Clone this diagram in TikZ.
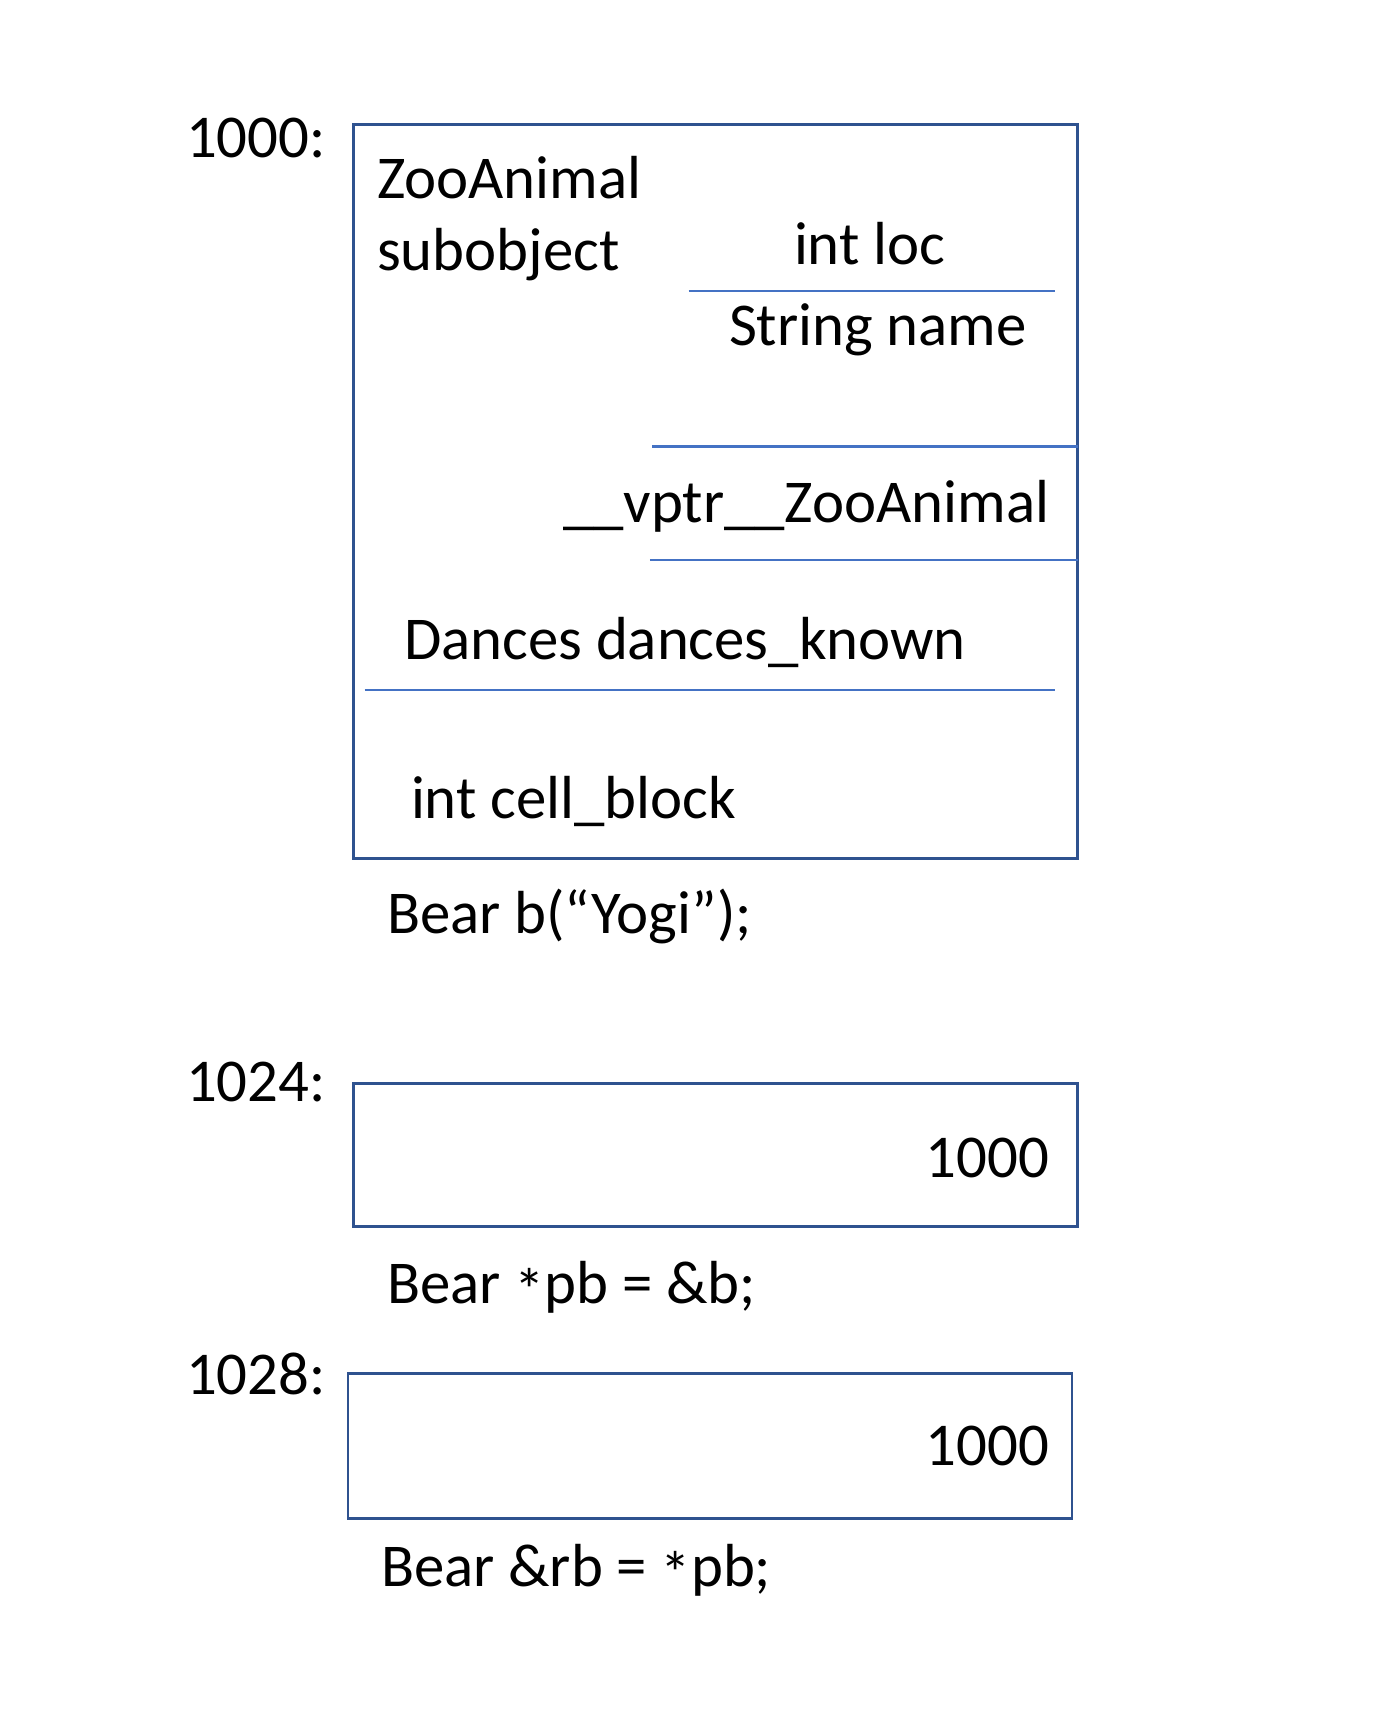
\documentclass[tikz,border=0pt]{standalone}
\usepackage{fontspec}
\setmainfont{Carlito}
\definecolor{boxblue}{HTML}{2F528F}
\definecolor{lineblue}{HTML}{4472C4}
\newcommand{\ptrstar}{\raisebox{-0.12em}{*}}
\tikzset{every path/.style={semithick}}
\tikzset{
  membox/.style={draw=boxblue,line width=0.8pt},
  fieldline/.style={draw=lineblue,line width=0.6pt},
  memtext/.style={inner sep=0pt,anchor=base west,font=\fontsize{17.3}{20}\selectfont},
  memval/.style={memtext,anchor=base east}
}

\begin{document}
\begin{tikzpicture}
    \useasboundingbox (0,0) rectangle (13.77,17.33);

    % the object b
    \draw[membox] (3.536,8.743) rectangle (10.775,16.081);
    \draw[fieldline] (6.885,14.424) -- (10.554,14.424);
    \draw[fieldline] (6.52,12.865) -- (10.775,12.865);
    \draw[fieldline] (6.498,11.727) -- (10.775,11.727);
    \draw[fieldline] (3.647,10.434) -- (10.554,10.434);

    \node[memtext] (addrb) at (1.85,15.75) {1000:};
    \node[memtext] (sub1) at (3.76,15.34) {ZooAnimal};
    \node[memtext] (sub2) at (3.76,14.623) {subobject};
    \node[memtext] (loc) at (7.93,14.68) {int loc};
    \node[memtext] (name) at (7.28,13.87) {String name};
    \node[memtext] (vptr) at (5.62,12.103) {\_\_vptr\_\_ZooAnimal};
    \node[memtext] (dances) at (4.03,10.733) {Dances dances\_known};
    \node[memtext] (cell) at (4.10,9.141) {int cell\_block};
    \node[memtext] (declb) at (3.86,7.992) {Bear b(“Yogi”);};

    % the pointer pb
    \node[memtext] (addrpb) at (1.85,6.312) {1024:};
    \draw[membox] (3.536,5.063) rectangle (10.775,6.492);
    \node[memval] (valpb) at (10.50,5.55) {1000};
    \node[memtext] (declpb) at (3.86,4.29) {Bear \ptrstar pb = \&b;};

    % the reference rb
    \node[memtext] (addrrb) at (1.85,3.384) {1028:};
    \draw[membox] (3.48,2.146) rectangle (10.72,3.594);
    \node[memval] (valrb) at (10.50,2.676) {1000};
    \node[memtext] (declrb) at (3.80,1.46) {Bear \&rb = \ptrstar pb;};
\end{tikzpicture}
\end{document}
